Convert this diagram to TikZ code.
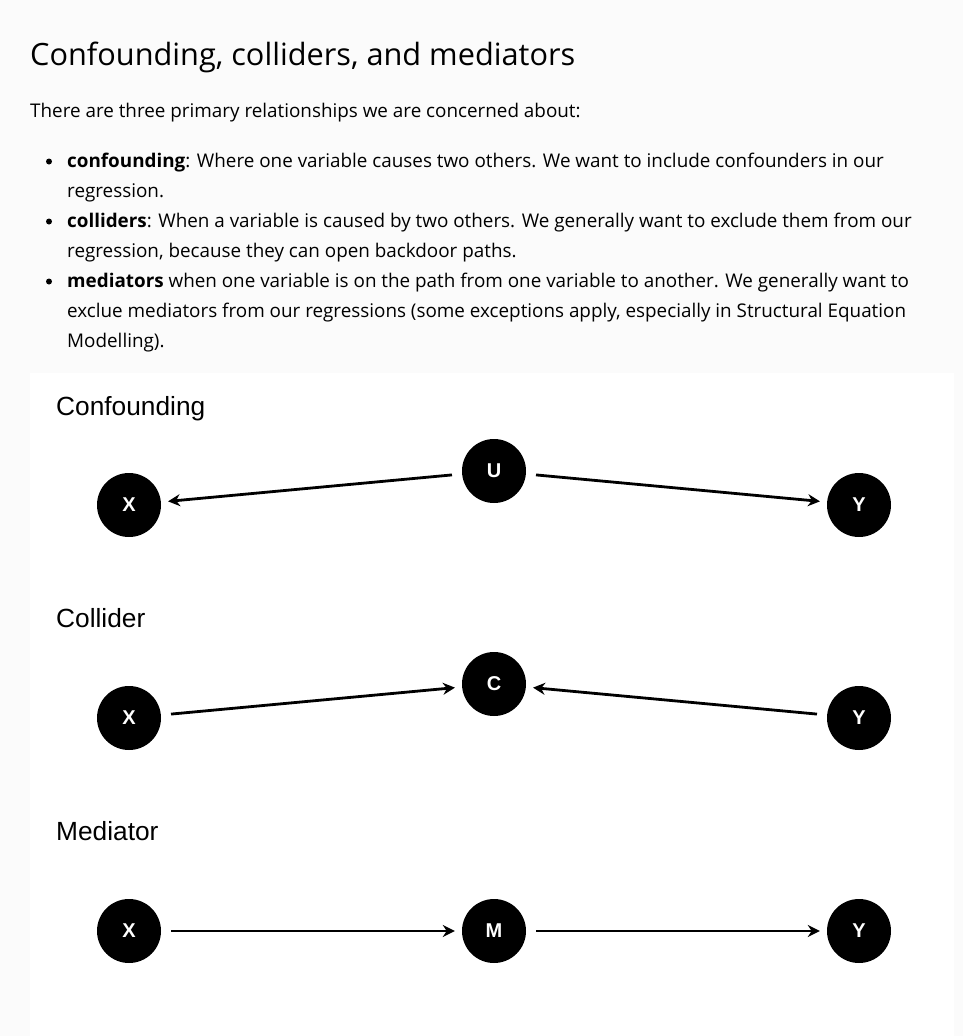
\documentclass[tikz,border=0pt]{standalone}
\usepackage{fontspec}
\setmainfont{Open Sans}
\newfontfamily\labelfont{Liberation Sans}
\usetikzlibrary{arrows.meta}
\definecolor{pagebg}{RGB}{251,251,251}

\begin{document}
\begin{tikzpicture}[x=1pt,y=-1pt,>={Stealth[length=12pt,width=12pt]},
  var/.style={circle,fill=black,text=white,minimum size=64pt,inner sep=0pt,
    font=\labelfont\bfseries\fontsize{20}{20}\selectfont},
  edge/.style={->,line width=2.8pt,shorten <=10pt,shorten >=7pt},
  title/.style={anchor=base west,inner sep=0pt,font=\labelfont\fontsize{26.3}{26}\selectfont},
  body/.style={anchor=base west,inner sep=0pt,font=\fontsize{18.85}{22}\selectfont}]
\useasboundingbox[fill=pagebg] (0,0) rectangle (963,1036);
\fill[white] (30,373) rectangle (954,1036);
% text above the panel
\node[body,font=\fontsize{30.7}{36}\selectfont] (head) at (30,65) {Confounding, colliders, and mediators};
\node[body] (intro) at (30,117) {There are three primary relationships we are concerned about:};
\foreach \y in {161.5,221.5,281.5} \fill (49,\y) circle(3pt);
\node[body] (l1) at (67,167) {\textbf{confounding}: Where one variable causes two others. We want to include confounders in our};
\node[body] (l2) at (67,197) {regression.};
\node[body] (l3) at (67,227) {\textbf{colliders}: When a variable is caused by two others. We generally want to exclude them from our};
\node[body] (l4) at (67,257) {regression, because they can open backdoor paths.};
\node[body] (l5) at (67,287) {\textbf{mediators} when one variable is on the path from one variable to another. We generally want to};
\node[body] (l6) at (67,317) {exclue mediators from our regressions (some exceptions apply, especially in Structural Equation};
\node[body] (l7) at (67,347) {Modelling).};
% confounding
\node[title] (tconf) at (56,415) {Confounding};
\node[var] (cu) at (494,471) {U};
\node[var] (cx) at (129,505) {X};
\node[var] (cy) at (859,505) {Y};
\draw[edge] (cu)--(cx);
\draw[edge] (cu)--(cy);
% collider
\node[title] (tcoll) at (56,627) {Collider};
\node[var] (kc) at (494,684) {C};
\node[var] (kx) at (129,718) {X};
\node[var] (ky) at (859,718) {Y};
\draw[edge] (kx)--(kc);
\draw[edge] (ky)--(kc);
% mediator
\node[title] (tmed) at (56,840) {Mediator};
\node[var] (mm) at (494,931) {M};
\node[var] (mx) at (129,931) {X};
\node[var] (my) at (859,931) {Y};
\draw[edge] (mx)--(mm);
\draw[edge] (mm)--(my);
\end{tikzpicture}
\end{document}
